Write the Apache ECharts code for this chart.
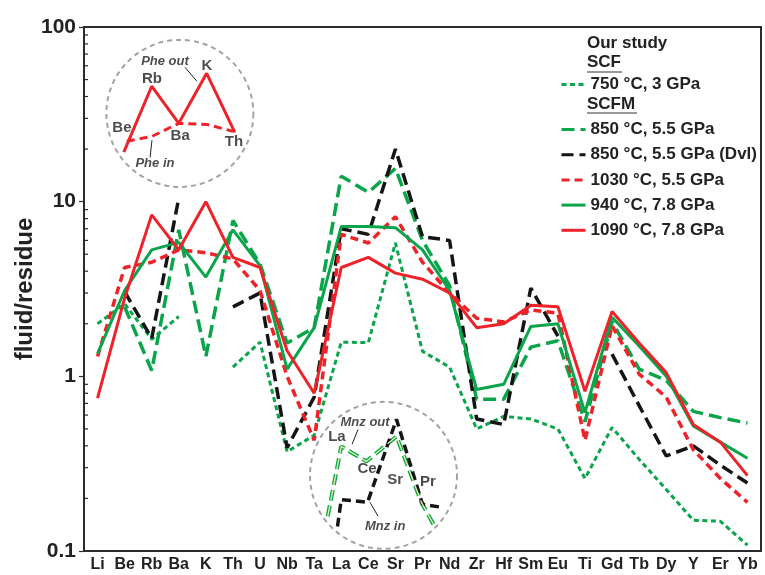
<!DOCTYPE html>
<html>
<head>
<meta charset="utf-8">
<script src="https://cdn.jsdelivr.net/npm/echarts@6/dist/echarts.min.js"></script>
<style>
html,body{margin:0;padding:0;background:#fff;}
#chart{width:765px;height:575px;}
</style>
</head>
<body>
<div id="chart"></div>
<script>
// ---- categories ----
const categories = ['Li','Be','Rb','Ba','K','Th','U','Nb','Ta','La','Ce','Sr','Pr','Nd','Zr','Hf','Sm','Eu','Ti','Gd','Tb','Dy','Y','Er','Yb'];
const yTicks = [0.1, 1, 10, 100];

// ---- series values (fluid/residue) ----
const scf750 = [2.0,2.6,1.63,2.2,null,1.13,1.57,0.37,0.46,1.57,1.56,5.8,1.39,1.13,0.50,0.59,0.57,0.50,0.26,0.51,0.335,0.225,0.15,0.148,0.108];
const scfm850 = [null,2.5,1.08,6.9,1.3,7.8,4.4,1.55,1.9,14,11.3,15.5,6.0,3.3,0.74,0.74,1.47,1.6,0.55,2.05,1.1,0.95,0.63,0.58,0.54];
const scfm850Dvl = [null,3.05,1.65,10.5,null,2.5,3.0,0.39,0.76,7.0,6.5,20,6.3,6.0,0.57,0.53,3.2,1.7,null,1.34,0.68,0.35,0.40,0.31,0.245];
const scfm1030 = [1.3,4.2,4.5,5.3,5.1,4.7,3.1,1.0,0.43,6.5,5.8,8.2,4.5,3.0,2.15,2.05,2.4,2.3,0.43,1.95,1.03,0.76,0.38,0.26,0.19];
const scfm940 = [1.35,3.1,5.3,5.85,3.7,6.9,4.3,1.1,1.9,7.2,7.2,7.1,5.3,3.1,0.84,0.9,1.93,2.0,0.62,2.18,1.49,1.0,0.52,0.42,0.34];
const scfm1090 = [0.75,2.8,8.4,5.3,10,4.8,4.2,1.4,0.8,4.2,4.8,3.9,3.6,3.0,1.9,2.0,2.55,2.5,0.82,2.35,1.55,1.05,0.53,0.42,0.27];

// ---- inset sketches: [category position, value] ----
const pheIn = [[1.08,22.2],[2.0,23.6],[3.0,28.1],[4.03,27.7],[5.0,25.3]];
const pheOut = [[0.97,19.2],[2.0,45.8],[3.0,28.1],[4.03,54.3],[5.07,24.9]];
const mnzGreen = [[8.5,0.158],[9.0,0.397],[9.93,0.326],[11.04,0.453],[11.96,0.19],[12.45,0.138]];
const mnzBlack = [[8.86,0.138],[9.0,0.197],[9.97,0.19],[11.04,0.567],[12.0,0.185],[12.7,0.178]];
const insetCircles = [[3.04,32],[10.56,0.271]];
const insetLabels = [
  ['Phe out',2.49,63.6,true],['K',4.04,60.3,false],['Rb',2.01,50.2,false],['Be',0.90,26.6,false],
  ['Ba',3.05,23.7,false],['Th',5.04,21.9,false],['Phe in',2.12,16.6,true],
  ['Mnz out',9.88,0.545,true],['La',8.84,0.453,false],['Ce',9.95,0.294,false],['Sr',10.99,0.257,false],
  ['Pr',12.2,0.25,false],['Mnz in',10.62,0.138,true]
];
const insetArrows = [
  [[3.23,58.8],[3.67,48.9]],
  [[1.94,17.9],[2.01,22.5]],
  [[9.62,0.497],[9.40,0.408]],
  [[10.36,0.158],[10.06,0.190]]
];

const GREEN = '#0aa54a', RED = '#ee2329', BLACK = '#151515';
const names = ['750 °C, 3 GPa','850 °C, 5.5 GPa','850 °C, 5.5 GPa (Dvl)','1030 °C, 5.5 GPa','940 °C, 7.8 GPa','1090 °C, 7.8 GPa'];

function lineSeries(name, data, color, width, type, z) {
  return {
    name: name, type: 'line', data: data, xAxisIndex: 0, yAxisIndex: 0,
    symbol: 'none', showSymbol: false, connectNulls: false, z: z,
    lineStyle: {color: color, width: width, type: type},
    itemStyle: {color: color},
    emphasis: {disabled: true}, silent: true
  };
}
function insetLine(data, color, width, type, z) {
  return {
    type: 'line', data: data, xAxisIndex: 1, yAxisIndex: 0, symbol: 'none', z: z,
    lineStyle: {color: color, width: width, type: type}, emphasis: {disabled: true}, silent: true
  };
}

const series = [
  lineSeries(names[0], scf750, GREEN, 3, [5,3.5], 3),
  lineSeries(names[1], scfm850, GREEN, 3.5, [13,6], 3),
  lineSeries(names[2], scfm850Dvl, BLACK, 3.5, [12,6], 4),
  lineSeries(names[3], scfm1030, RED, 3.5, [8,5], 4),
  lineSeries(names[4], scfm940, GREEN, 3, 'solid', 5),
  lineSeries(names[5], scfm1090, RED, 3, 'solid', 6),
  insetLine(pheIn, RED, 3, [8,5], 6),
  insetLine(pheOut, RED, 3, 'solid', 6),
  insetLine(mnzGreen, GREEN, 4, [11,5], 6),
  insetLine(mnzGreen, '#dff3a8', 1.4, [11,5], 7),
  insetLine(mnzBlack, BLACK, 3.5, [9,5], 6),
  {
    type: 'scatter', xAxisIndex: 1, yAxisIndex: 0, data: insetCircles, z: 2, silent: true,
    symbol: 'circle', symbolSize: 147,
    itemStyle: {color: 'rgba(0,0,0,0)', borderColor: '#8c8c8c', borderWidth: 2, borderType: [5,4]},
    emphasis: {disabled: true}
  },
  {
    type: 'scatter', xAxisIndex: 1, yAxisIndex: 0, z: 8, silent: true, symbolSize: 0,
    data: insetLabels.map(function (d) {
      return {value: [d[1], d[2]], label: {show: true, position: 'inside', formatter: d[0],
        fontStyle: d[3] ? 'italic' : 'normal', fontSize: d[3] ? 13 : 15, fontWeight: 'bold',
        color: '#1e1e1e', fontFamily: 'Liberation Sans, Arial, sans-serif'}};
    }),
    emphasis: {disabled: true},
    markLine: {
      silent: true, symbol: ['none','arrow'], symbolSize: [0,7],
      lineStyle: {color: '#222', width: 1, type: 'solid'}, label: {show: false},
      data: insetArrows.map(function (a) { return [{coord: a[0]}, {coord: a[1]}]; })
    }
  }
];

const FONT = 'Liberation Sans, Arial, sans-serif';
const legendText = {fontSize: 17, fontWeight: 'bold', color: '#222', fontFamily: FONT, lineHeight: 16};
const chart = echarts.init(document.getElementById('chart'), null, {renderer: 'canvas'});
const option = {
  animation: false,
  backgroundColor: '#fff',
  textStyle: {fontFamily: FONT},
  grid: {left: 84, right: 4, top: 27, bottom: 24, show: true, borderColor: '#2b2b2b', borderWidth: 2,
         backgroundColor: 'transparent', containLabel: false, outerBoundsMode: 'none'},
  legend: [
    {data: [names[0]], left: 560, top: 76, padding: 0, orient: 'vertical', itemWidth: 24, itemHeight: 16, itemGap: 9,
     itemStyle: {opacity: 0}, lineStyle: {width: 3}, textStyle: legendText, selectedMode: false},
    {data: names.slice(1), left: 560, top: 121, padding: 0, orient: 'vertical', itemWidth: 24, itemHeight: 16, itemGap: 8.2,
     itemStyle: {opacity: 0}, lineStyle: {width: 3}, textStyle: legendText, selectedMode: false}
  ],
  xAxis: [
    {type: 'category', data: categories, boundaryGap: true,
     axisLine: {onZero: false, lineStyle: {color: '#2b2b2b', width: 2}},
     axisTick: {alignWithLabel: true, length: 4, lineStyle: {color: '#2b2b2b', width: 1.2}},
     axisLabel: {interval: 0, fontSize: 16, fontWeight: 'bold', color: '#222', margin: 6, fontFamily: FONT},
     splitLine: {show: false}},
    {type: 'value', min: -0.5, max: 24.5, show: false, splitLine: {show: false}}
  ],
  yAxis: [
    {type: 'log', logBase: 10, min: 0.1, max: 100,
     name: 'fluid/residue', nameLocation: 'middle', nameGap: 47, nameMoveOverlap: false,
     nameTextStyle: {fontSize: 24, fontWeight: 'bold', color: '#222', fontFamily: FONT},
     axisLine: {show: true, onZero: false, lineStyle: {color: '#2b2b2b', width: 2}},
     axisTick: {show: true, length: 5, lineStyle: {color: '#2b2b2b', width: 1.2}},
     axisLabel: {fontSize: 21, fontWeight: 'bold', color: '#222', margin: 8, fontFamily: FONT,
       formatter: function (v) { return String(Math.round(v * 10) / 10); }},
     splitLine: {show: false}}
  ],
  series: series
};
chart.setOption(option);

// log minor ticks (inside) placed through the y scale, plus legend headings
const gridLeft = chart.convertToPixel({xAxisIndex: 1}, -0.5);
const graphics = [];
for (let k = -1; k <= 1; k++) {
  for (let m = 2; m <= 9; m++) {
    const y = chart.convertToPixel({yAxisIndex: 0}, m * Math.pow(10, k));
    graphics.push({type: 'line', silent: true, z: 10,
      shape: {x1: gridLeft, y1: y, x2: gridLeft + 4, y2: y}, style: {stroke: '#2b2b2b', lineWidth: 1.2}});
  }
}
const headStyle = {fontSize: 17, fontWeight: 'bold', fill: '#222', fontFamily: FONT};
graphics.push({type: 'text', left: 587, top: 35, style: Object.assign({text: 'Our study'}, headStyle)});
graphics.push({type: 'text', left: 587, top: 54, style: Object.assign({text: 'SCF'}, headStyle)});
graphics.push({type: 'line', shape: {x1: 587, y1: 72, x2: 622, y2: 72}, style: {stroke: '#777', lineWidth: 1.5}});
graphics.push({type: 'text', left: 587, top: 96, style: Object.assign({text: 'SCFM'}, headStyle)});
graphics.push({type: 'line', shape: {x1: 587, y1: 113, x2: 637, y2: 113}, style: {stroke: '#777', lineWidth: 1.5}});
chart.setOption({graphic: graphics});
</script>
</body>
</html>
